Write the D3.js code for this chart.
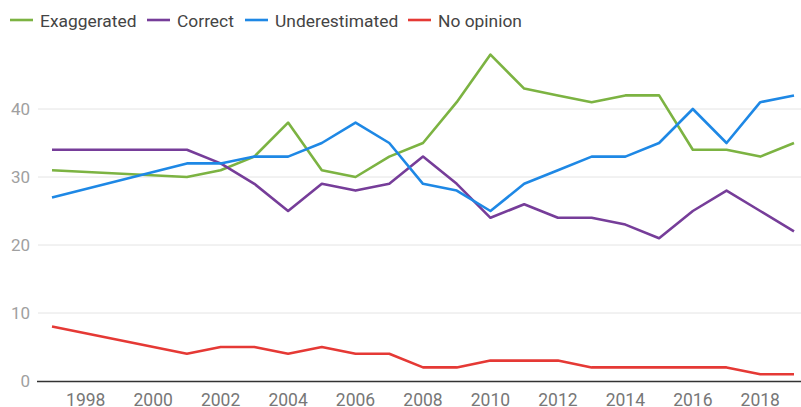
<!DOCTYPE html>
<html>
<head>
<meta charset="utf-8">
<script src="https://cdn.jsdelivr.net/npm/d3@7"></script>
<style>
  html, body { margin: 0; padding: 0; background: #fff; }
  svg { display: block; font-family: Roboto, "Noto Sans", sans-serif; }
</style>
</head>
<body>
<svg id="chart" width="801" height="407"></svg>
<script>
const years = [1997, 2001, 2002, 2003, 2004, 2005, 2006, 2007, 2008, 2009, 2010, 2011, 2012, 2013, 2014, 2015, 2016, 2017, 2018, 2019];
const exaggerated   = [31, 30, 31, 33, 38, 31, 30, 33, 35, 41, 48, 43, 42, 41, 42, 42, 34, 34, 33, 35];
const correct       = [34, 34, 32, 29, 25, 29, 28, 29, 33, 29, 24, 26, 24, 24, 23, 21, 25, 28, 25, 22];
const underestimated= [27, 32, 32, 33, 33, 35, 38, 35, 29, 28, 25, 29, 31, 33, 33, 35, 40, 35, 41, 42];
const noOpinion     = [8, 4, 5, 5, 4, 5, 4, 4, 2, 2, 3, 3, 3, 2, 2, 2, 2, 2, 1, 1];
const seriesNames = ["Exaggerated", "Correct", "Underestimated", "No opinion"];
const seriesColors = ["#7cb342", "#763d99", "#1e88e5", "#e53935"];
const xTicks = [1998, 2000, 2002, 2004, 2006, 2008, 2010, 2012, 2014, 2016, 2018];
const yTicks = [0, 10, 20, 30, 40];

const series = [exaggerated, correct, underestimated, noOpinion].map((vals, i) => ({
  name: seriesNames[i], color: seriesColors[i],
  points: years.map((y, j) => ({ year: y, value: vals[j] }))
}));

const svg = d3.select("#chart");
const plotLeft = 38, plotRight = 801;
const x = d3.scaleLinear().domain([1997, 2019]).range([52, 794]);
const y = d3.scaleLinear().domain([0, 40]).range([381, 109]);

// gridlines
svg.append("g").selectAll("line").data(yTicks.filter(t => t !== 0)).join("line")
  .attr("x1", plotLeft).attr("x2", plotRight)
  .attr("y1", d => y(d)).attr("y2", d => y(d))
  .attr("stroke", "#e4e4e4").attr("stroke-width", 1);

// y labels
svg.append("g").selectAll("text").data(yTicks).join("text")
  .attr("x", 30).attr("y", d => y(d) + 6)
  .attr("text-anchor", "end").attr("font-size", 17).attr("fill", "#a0a0a0")
  .text(d => d);

// x labels
svg.append("g").selectAll("text").data(xTicks).join("text")
  .attr("x", d => x(d)).attr("y", 406)
  .attr("text-anchor", "middle").attr("font-size", 17.5).attr("fill", "#777")
  .text(d => d);

// lines
const line = d3.line().x(d => x(d.year)).y(d => y(d.value));
svg.append("g").selectAll("path").data(series).join("path")
  .attr("d", d => line(d.points))
  .attr("fill", "none").attr("stroke", d => d.color)
  .attr("stroke-width", 2.6).attr("stroke-linejoin", "round");

// baseline
svg.append("line").attr("x1", plotLeft - 1).attr("x2", plotRight)
  .attr("y1", y(0) + 0.5).attr("y2", y(0) + 0.5)
  .attr("stroke", "#333").attr("stroke-width", 1.6);

// legend
const legendX = [10, 147, 245, 408];
const lg = svg.append("g").selectAll("g").data(series).join("g")
  .attr("transform", (d, i) => `translate(${legendX[i]},20)`);
lg.append("line").attr("x1", 0).attr("x2", 23).attr("y1", 0).attr("y2", 0)
  .attr("stroke", d => d.color).attr("stroke-width", 2.6);
lg.append("text").attr("x", 30).attr("y", 6.5).attr("font-size", 17.4).attr("fill", "#444")
  .text(d => d.name);
</script>
</body>
</html>
